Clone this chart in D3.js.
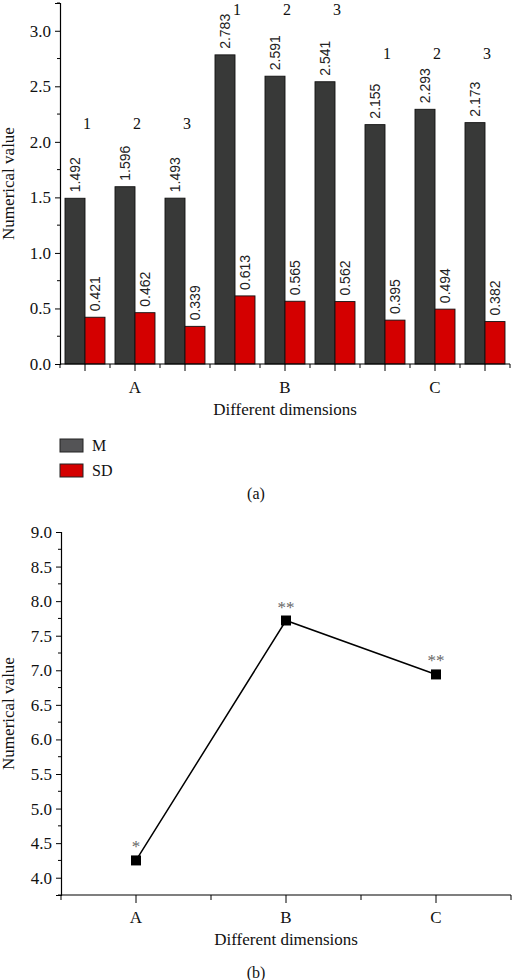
<!DOCTYPE html>
<html><head><meta charset="utf-8">
<script src="https://cdn.jsdelivr.net/npm/d3@7"></script>
<style>
html,body{margin:0;padding:0;background:#fff;}
svg{display:block;}
</style></head>
<body>
<script>
// ---------- data ----------
const groups = ["A", "B", "C"];
const subLabels = ["1", "2", "3"];
const seriesNames = ["M", "SD"];
const mValues = [1.492, 1.596, 1.493, 2.783, 2.591, 2.541, 2.155, 2.293, 2.173];
const sdValues = [0.421, 0.462, 0.339, 0.613, 0.565, 0.562, 0.395, 0.494, 0.382];
const subLabelLevels = [2.17, 3.19, 2.80];   // height (in data units) of the 1/2/3 annotations per group
const yTicksA = [0, 0.5, 1.0, 1.5, 2.0, 2.5, 3.0];

const dims = ["A", "B", "C"];
const lineValues = [4.25, 7.72, 6.94];
const starLabels = ["*", "**", "**"];
const yTicksB = [4.0, 4.5, 5.0, 5.5, 6.0, 6.5, 7.0, 7.5, 8.0, 8.5, 9.0];

// ---------- setup ----------
const W = 512, H = 980;
const serif = "'Liberation Serif', 'Times New Roman', serif";
const sans = "'Liberation Sans', Arial, sans-serif";
const svg = d3.select("body").append("svg").attr("width", W).attr("height", H);
svg.append("rect").attr("width", W).attr("height", H).attr("fill", "#fff");

const colors = {M: "#383938", SD: "#d40000"};

// ================= Chart (a) =================
const a = {left: 60, right: 510, top: 3, bottom: 364};
const subIds = d3.range(mValues.length);
const xA = d3.scaleBand().domain(subIds).range([a.left, a.right]).padding(0);
const xInner = d3.scaleBand().domain(seriesNames).range([0, xA.bandwidth()]).paddingInner(0).paddingOuter(0.25);
const yA = d3.scaleLinear().domain([0, 3.25]).range([a.bottom, a.top]);

const gA = svg.append("g");

// bars
const barData = [];
subIds.forEach(i => {
  barData.push({i, s: "M", v: mValues[i]});
  barData.push({i, s: "SD", v: sdValues[i]});
});
gA.selectAll("rect.bar").data(barData).enter().append("rect")
  .attr("class", "bar")
  .attr("x", d => xA(d.i) + xInner(d.s))
  .attr("y", d => yA(d.v))
  .attr("width", xInner.bandwidth())
  .attr("height", d => yA(0) - yA(d.v))
  .attr("fill", d => colors[d.s])
  .attr("stroke", "#111")
  .attr("stroke-width", 0.9);

// value labels (rotated)
gA.selectAll("text.val").data(barData).enter().append("text")
  .attr("class", "val")
  .attr("transform", d => `translate(${xA(d.i) + xInner(d.s) + xInner.bandwidth() / 2},${yA(d.v) - 6}) rotate(-90)`)
  .attr("dy", "0.36em")
  .attr("text-anchor", "start")
  .attr("font-family", sans)
  .attr("font-size", 14)
  .attr("fill", "#222")
  .text(d => d.v.toFixed(3));

// 1/2/3 annotations
subIds.forEach(i => {
  const gi = Math.floor(i / 3);
  gA.append("text")
    .attr("x", xA(i) + xA.bandwidth() / 2 + 2)
    .attr("y", yA(subLabelLevels[gi]))
    .attr("dy", "0.35em")
    .attr("text-anchor", "middle")
    .attr("font-family", serif)
    .attr("font-size", 16)
    .attr("fill", "#111")
    .text(subLabels[i % 3]);
});

// y axis
const yAxisA = gA.append("g").attr("transform", `translate(${a.left},0)`)
  .call(d3.axisLeft(yA).tickValues(yTicksA).tickFormat(d3.format(".1f")).tickSize(5).tickPadding(4));
yAxisA.append("g").selectAll("line").data(d3.range(0.25, 3.26, 0.5)).enter().append("line")
  .attr("x1", -3).attr("x2", 0).attr("y1", d => yA(d)).attr("y2", d => yA(d)).attr("stroke", "#000");

// x axis (minor ticks at band edges, major ticks at band centers)
const xAxisA = gA.append("g").attr("transform", `translate(0,${a.bottom})`);
xAxisA.append("line").attr("x1", a.left).attr("x2", a.right).attr("stroke", "#000").attr("stroke-width", 1.2);
xAxisA.selectAll("line.minor").data(d3.range(mValues.length + 1)).enter().append("line")
  .attr("class", "minor")
  .attr("x1", i => a.left + i * xA.step()).attr("x2", i => a.left + i * xA.step())
  .attr("y1", 0).attr("y2", 4).attr("stroke", "#000");
xAxisA.selectAll("line.major").data(subIds).enter().append("line")
  .attr("class", "major")
  .attr("x1", i => xA(i) + xA.bandwidth() / 2).attr("x2", i => xA(i) + xA.bandwidth() / 2)
  .attr("y1", 0).attr("y2", 7).attr("stroke", "#000");
xAxisA.selectAll("text.grp").data(groups).enter().append("text")
  .attr("class", "grp")
  .attr("x", (g, gi) => xA(gi * 3 + 1) + xA.bandwidth() / 2)
  .attr("y", 29)
  .attr("text-anchor", "middle")
  .attr("font-family", serif).attr("font-size", 17).attr("fill", "#111")
  .text(g => g);

// titles
gA.append("text").attr("x", (a.left + a.right) / 2).attr("y", 415)
  .attr("text-anchor", "middle").attr("font-family", serif).attr("font-size", 17).attr("fill", "#111")
  .text("Different dimensions");
gA.append("text").attr("transform", `translate(14,${(a.top + a.bottom) / 2}) rotate(-90)`)
  .attr("text-anchor", "middle").attr("font-family", serif).attr("font-size", 17).attr("fill", "#111")
  .text("Numerical value");

// legend
const legendColors = {M: "#545456", SD: "#d40000"};
seriesNames.forEach((s, k) => {
  gA.append("rect").attr("x", 60).attr("y", 439 + k * 25).attr("width", 23).attr("height", 13)
    .attr("fill", legendColors[s]).attr("stroke", "#222").attr("stroke-width", 1);
  gA.append("text").attr("x", 92).attr("y", 451 + k * 25)
    .attr("font-family", serif).attr("font-size", 16).attr("fill", "#111").text(s);
});
gA.append("text").attr("x", 256).attr("y", 499).attr("text-anchor", "middle")
  .attr("font-family", serif).attr("font-size", 16).attr("fill", "#111").text("(a)");

// ================= Chart (b) =================
const b = {left: 61, right: 511, top: 532, bottom: 895};
const xB = d3.scaleBand().domain(dims).range([b.left, b.right]).padding(0);
const yB = d3.scaleLinear().domain([3.75, 9.0]).range([b.bottom, b.top]);
const gB = svg.append("g");

const yAxisB = gB.append("g").attr("transform", `translate(${b.left},0)`)
  .call(d3.axisLeft(yB).tickValues(yTicksB).tickFormat(d3.format(".1f")).tickSize(5).tickPadding(4));
yAxisB.append("g").selectAll("line").data(d3.range(3.75, 9.0, 0.5)).enter().append("line")
  .attr("x1", -3).attr("x2", 0).attr("y1", d => yB(d)).attr("y2", d => yB(d)).attr("stroke", "#000");

const xAxisB = gB.append("g").attr("transform", `translate(0,${b.bottom})`);
xAxisB.append("line").attr("x1", b.left).attr("x2", b.right).attr("stroke", "#000").attr("stroke-width", 1.2);
xAxisB.selectAll("line.minor").data(d3.range(dims.length + 1)).enter().append("line")
  .attr("x1", i => b.left + i * xB.step()).attr("x2", i => b.left + i * xB.step())
  .attr("y1", 0).attr("y2", 5).attr("stroke", "#000");
xAxisB.selectAll("line.major").data(dims).enter().append("line")
  .attr("x1", d => xB(d) + xB.bandwidth() / 2).attr("x2", d => xB(d) + xB.bandwidth() / 2)
  .attr("y1", 0).attr("y2", 8).attr("stroke", "#000");
xAxisB.selectAll("text.grp").data(dims).enter().append("text")
  .attr("x", d => xB(d) + xB.bandwidth() / 2).attr("y", 28)
  .attr("text-anchor", "middle").attr("font-family", serif).attr("font-size", 17).attr("fill", "#111")
  .text(d => d);

// line + markers
const pts = dims.map((d, i) => ({d, v: lineValues[i], s: starLabels[i]}));
gB.append("path").datum(pts)
  .attr("d", d3.line().x(p => xB(p.d) + xB.bandwidth() / 2).y(p => yB(p.v)))
  .attr("fill", "none").attr("stroke", "#000").attr("stroke-width", 1.5);
gB.selectAll("rect.mk").data(pts).enter().append("rect")
  .attr("x", p => xB(p.d) + xB.bandwidth() / 2 - 5).attr("y", p => yB(p.v) - 5)
  .attr("width", 10).attr("height", 10).attr("fill", "#000");
gB.selectAll("text.star").data(pts).enter().append("text")
  .attr("x", p => xB(p.d) + xB.bandwidth() / 2).attr("y", p => yB(p.v) - 8)
  .attr("text-anchor", "middle").attr("font-family", serif).attr("font-size", 17).attr("fill", "#666")
  .text(p => p.s);

gB.append("text").attr("x", (b.left + b.right) / 2).attr("y", 945)
  .attr("text-anchor", "middle").attr("font-family", serif).attr("font-size", 17).attr("fill", "#111")
  .text("Different dimensions");
gB.append("text").attr("transform", `translate(14,${(b.top + b.bottom) / 2}) rotate(-90)`)
  .attr("text-anchor", "middle").attr("font-family", serif).attr("font-size", 17).attr("fill", "#111")
  .text("Numerical value");
gB.append("text").attr("x", 256).attr("y", 978).attr("text-anchor", "middle")
  .attr("font-family", serif).attr("font-size", 16).attr("fill", "#111").text("(b)");

// axis styling
svg.selectAll(".domain").attr("stroke", "#000").attr("stroke-width", 1.2);
svg.selectAll(".tick line").attr("stroke", "#000");
svg.selectAll(".tick text").attr("font-family", serif).attr("font-size", 17).attr("fill", "#111");
</script>
</body></html>
